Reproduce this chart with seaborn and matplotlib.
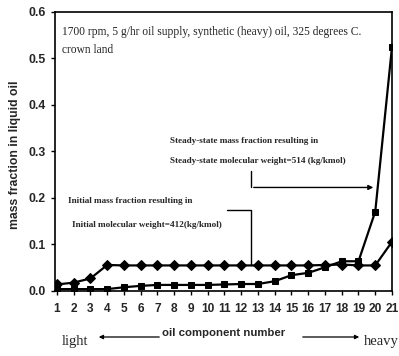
import matplotlib
matplotlib.use("Agg")
import matplotlib.pyplot as plt
import seaborn as sns
import pandas as pd

components = list(range(1, 22))
initial_fraction = [0.013, 0.017, 0.026, 0.055, 0.054, 0.054, 0.054, 0.054, 0.054, 0.054,
                    0.054, 0.054, 0.054, 0.054, 0.054, 0.054, 0.055, 0.056, 0.054, 0.054, 0.105]
steady_fraction = [0.003, 0.003, 0.003, 0.003, 0.007, 0.010, 0.012, 0.012, 0.012, 0.012,
                   0.013, 0.014, 0.014, 0.020, 0.033, 0.038, 0.050, 0.063, 0.063, 0.170, 0.525]
y_ticks = [0.0, 0.1, 0.2, 0.3, 0.4, 0.5, 0.6]

df = pd.DataFrame({
    "component": components * 2,
    "fraction": initial_fraction + steady_fraction,
    "series": ["initial"] * 21 + ["steady"] * 21,
})

sns.set_style("ticks")
plt.rcParams["font.family"] = ["Liberation Sans", "DejaVu Sans"]

fig = plt.figure(figsize=(3.99, 3.56), dpi=100)
ax = fig.add_axes([55.3 / 399, 1 - 290.5 / 356, 336.7 / 399, 278.5 / 356])

sns.lineplot(data=df, x="component", y="fraction", hue="series", style="series",
             markers={"initial": "D", "steady": "s"}, dashes=False,
             palette={"initial": "black", "steady": "black"},
             markersize=5, linewidth=1.6, markeredgecolor="black", ax=ax, legend=False)

ax.set_xlim(0.9, 21)
ax.set_ylim(0, 0.6)
ax.set_xticks(components)
ax.set_xticklabels([str(c) for c in components], fontweight="bold", fontsize=8.6)
ax.set_yticks(y_ticks)
ax.set_yticklabels([f"{v:.1f}" for v in y_ticks], fontweight="bold", fontsize=8.8)
ax.tick_params(axis="both", length=3, width=1, color="black", pad=4)
ax.tick_params(axis="x", pad=6)
for s in ax.spines.values():
    s.set_color("black")
    s.set_linewidth(1.2)

ax.set_xlabel("")
ax.set_ylabel("mass fraction in liquid oil", fontweight="bold", fontsize=8.8)
ax.yaxis.set_label_coords(-(55.3 - 21) / 336.7, (290.5 - 155) / 278.5)

serif = ["Liberation Serif", "DejaVu Serif"]
ax.text(0.02, 0.928, "1700 rpm, 5 g/hr oil supply, synthetic (heavy) oil, 325 degrees C.",
        transform=ax.transAxes, fontsize=8.3, family=serif, va="center", ha="left")
ax.text(0.02, 0.864, "crown land", transform=ax.transAxes, fontsize=8.3, family=serif,
        va="center", ha="left")

# Steady-state annotation
ax.text(7.75, 0.322, "Steady-state mass fraction resulting in", fontsize=6.6, family=serif,
        fontweight="bold", va="center", ha="left")
ax.text(7.75, 0.278, "Steady-state molecular weight=514 (kg/kmol)", fontsize=6.6, family=serif,
        fontweight="bold", va="center", ha="left")
ax.plot([12.58, 12.58], [0.258, 0.222], color="black", lw=1)
ax.annotate("", xy=(20.05, 0.222), xytext=(12.58, 0.222),
            arrowprops=dict(arrowstyle="-|>", color="black", lw=1, mutation_scale=7))

# Initial annotation
ax.text(1.66, 0.193, "Initial mass fraction resulting in", fontsize=6.6, family=serif,
        fontweight="bold", va="center", ha="left")
ax.text(1.9, 0.141, "Initial molecular weight=412(kg/kmol)", fontsize=6.6, family=serif,
        fontweight="bold", va="center", ha="left")
ax.plot([11.15, 12.58, 12.58], [0.174, 0.174, 0.056], color="black", lw=1)

# Axis caption with light/heavy direction arrows
fig.text(224 / 399, 1 - 333 / 356, "oil component number", fontsize=8.2, fontweight="bold",
         ha="center", va="center")
fig.text(62 / 399, 1 - 341 / 356, "light", fontsize=10.5, family=serif, ha="left", va="center")
fig.text(399 / 399, 1 - 341 / 356, "heavy", fontsize=10.5, family=serif, ha="right", va="center")
fig.add_artist(matplotlib.patches.FancyArrowPatch(
    (162 / 399, 1 - 337 / 356), (96 / 399, 1 - 337 / 356), transform=fig.transFigure,
    arrowstyle="-|>", mutation_scale=6, color="black", lw=0.9))
fig.add_artist(matplotlib.patches.FancyArrowPatch(
    (300 / 399, 1 - 337 / 356), (362 / 399, 1 - 337 / 356), transform=fig.transFigure,
    arrowstyle="-|>", mutation_scale=6, color="black", lw=0.9))

fig.savefig("out.png", dpi=100)
